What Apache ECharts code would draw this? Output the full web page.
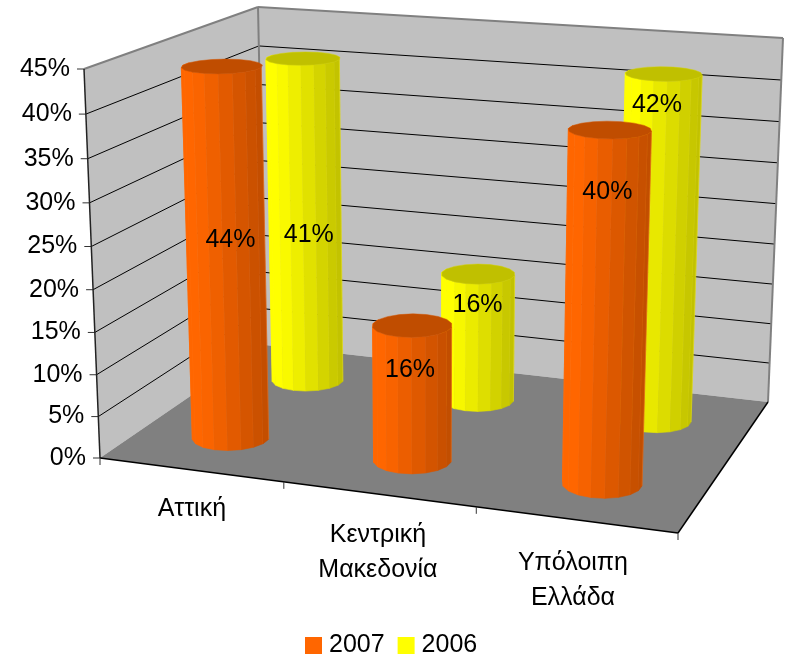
<!DOCTYPE html>
<html><head><meta charset="utf-8">
<style>html,body{margin:0;padding:0;background:#fff}#c{width:785px;height:655px}</style>
<script src="https://cdn.jsdelivr.net/npm/echarts@6/dist/echarts.min.js"></script>
</head><body><div id="c"></div>
<script>
const categories = ['Αττική', 'Κεντρική\nΜακεδονία', 'Υπόλοιπη\nΕλλάδα'];
const yTicks = [0, 5, 10, 15, 20, 25, 30, 35, 40, 45];
const values2007 = [44, 16, 40];
const values2006 = [41, 16, 42];

/* perspective box: screen position of box corners */
const FL = [100, 458], FR = [678, 533], BR = [768, 402], BL = [265, 345];
const TFL = [84, 69], TBL = [258, 7], TBR = [783, 38];
const FONT = '"Liberation Sans", Arial, sans-serif';
const FS = 25;
const RU = 0.066, RV = 0.1, FACETS = 18, CYL_SHIFT = -0.005;
const labelNudge = { '2007': [[21, -26], [12, -35], [13, -130]], '2006': [[18, 4], [12, -43], [8, -155]] };
const catNudge = [[1, 22], [-1, 23], [-3, 26]];

/* floor homography (unit square to quad) */
function quadH(p0, p1, p2, p3) {
  const dx1 = p1[0] - p2[0], dx2 = p3[0] - p2[0], sx = p0[0] - p1[0] + p2[0] - p3[0];
  const dy1 = p1[1] - p2[1], dy2 = p3[1] - p2[1], sy = p0[1] - p1[1] + p2[1] - p3[1];
  const d = dx1 * dy2 - dx2 * dy1;
  const g = (sx * dy2 - dx2 * sy) / d, h = (dx1 * sy - sx * dy1) / d;
  return [p1[0] - p0[0] + g * p1[0], p3[0] - p0[0] + h * p3[0], p0[0],
          p1[1] - p0[1] + g * p1[1], p3[1] - p0[1] + h * p3[1], p0[1], g, h, 1];
}
const H = quadH(FL, FR, BR, BL);
function floorHom(u, v) {
  return [H[0] * u + H[1] * v + H[2], H[3] * u + H[4] * v + H[5], H[6] * u + H[7] * v + H[8]];
}
/* vertical column of the projection, least squares on the three top corners */
function solveC() {
  const pts = [[0, 0, TFL], [0, 1, TBL], [1, 1, TBR]];
  const A = [[0, 0, 0, 0], [0, 0, 0, 0], [0, 0, 0, 0]];
  pts.forEach(([u, v, p]) => {
    const f = floorHom(u, v);
    [[[1, 0, -p[0]], p[0] * f[2] - f[0]], [[0, 1, -p[1]], p[1] * f[2] - f[1]]].forEach(([r, b]) => {
      for (let i = 0; i < 3; i++) { for (let j = 0; j < 3; j++) A[i][j] += r[i] * r[j]; A[i][3] += r[i] * b; }
    });
  });
  for (let i = 0; i < 3; i++) {
    for (let k = i + 1; k < 3; k++) {
      const m = A[k][i] / A[i][i];
      for (let j = i; j < 4; j++) A[k][j] -= m * A[i][j];
    }
  }
  const x = [0, 0, 0];
  for (let i = 2; i >= 0; i--) {
    let s = A[i][3];
    for (let j = i + 1; j < 3; j++) s -= A[i][j] * x[j];
    x[i] = s / A[i][i];
  }
  return x;
}
const C = solveC();
function rawProj(u, v, w) {
  const f = floorHom(u, v), d = f[2] + w * C[2];
  return [(f[0] + w * C[0]) / d, (f[1] + w * C[1]) / d];
}
/* small residual field so the top corners land exactly where they are seen */
const sub = (a, b) => [a[0] - b[0], a[1] - b[1]];
const R00 = sub(TFL, rawProj(0, 0, 1)), R01 = sub(TBL, rawProj(0, 1, 1)), R11 = sub(TBR, rawProj(1, 1, 1));
function proj(u, v, w) {
  const p = rawProj(u, v, w);
  return [0, 1].map(i => p[i] + w * (R00[i] + u * (R11[i] - R01[i]) + v * (R01[i] - R00[i])));
}

/* the hidden grid is 100x100 px, so library scales give box fractions */
function toBox(api, cat, val) {
  const c = api.coord([cat, val]);
  return [c[0] / 100, (100 - c[1]) / 100];
}
const line = (a, b, stroke, lineWidth) => ({
  type: 'line', silent: true,
  shape: { x1: a[0], y1: a[1], x2: b[0], y2: b[1] },
  style: { stroke, lineWidth }
});
const poly = (points, fill, stroke, lineWidth) => ({
  type: 'polygon', silent: true, shape: { points },
  style: { fill, stroke: stroke || fill, lineWidth: lineWidth === undefined ? 0.5 : lineWidth }
});
const text = (x, y, s, align, vAlign) => ({
  type: 'text', silent: true, x, y,
  style: { text: s, fill: '#000', font: FS + 'px ' + FONT, align, verticalAlign: vAlign, lineHeight: 35 }
});

function renderWalls() {
  const t = (u, v) => proj(u, v, 1);
  return { type: 'group', children: [
    poly([FL, BL, t(0, 1), t(0, 0)], '#C0C0C0', '#C0C0C0', 0),
    poly([BL, BR, t(1, 1), t(0, 1)], '#C0C0C0', '#C0C0C0', 0),
    poly([FL, FR, BR, BL], '#808080', '#808080', 0)
  ] };
}
function renderGridTick(params, api) {
  const val = api.value(1);
  const w = toBox(api, 0, val)[1];
  const a = proj(0, 0, w), b = proj(0, 1, w), c = proj(1, 1, w);
  const kids = [];
  const top = val === yTicks[yTicks.length - 1];
  if (val !== yTicks[0]) {
    const col = top ? '#808080' : '#000';
    const lw = top ? 2 : 1;
    kids.push(line(a, b, col, lw), line(b, c, col, lw));
  }
  kids.push(line([a[0] - 7, a[1]], a, '#333', 1));
  kids.push(text(a[0] - 14, a[1], val + '%', 'right', 'middle'));
  return { type: 'group', children: kids };
}
function renderFrame() {
  return { type: 'group', children: [
    line(proj(0, 1, 0), proj(0, 1, 1), '#808080', 2),
    line(proj(1, 1, 0), proj(1, 1, 1), '#808080', 2),
    line(proj(0, 0, 0), proj(0, 0, 1), '#222', 1.5),
    line(FL, FR, '#000', 1.5),
    line(FR, BR, '#000', 1.5)
  ] };
}
function renderCat(params, api) {
  const i = api.value(0);
  const uc = toBox(api, i, 0)[0];
  const band = api.size([1, 0])[0] / 100;
  const kids = [];
  const a = proj(uc - band / 2, 0, 0);
  kids.push(line(a, [a[0], a[1] + 7], '#333', 1));
  if (i === categories.length - 1) {
    const e = proj(uc + band / 2, 0, 0);
    kids.push(line(e, [e[0], e[1] + 7], '#333', 1));
  }
  const c = proj(uc, 0, 0), n = catNudge[i];
  kids.push(text(c[0] + n[0], c[1] + n[1], categories[i], 'center', 'top'));
  return { type: 'group', children: kids };
}
function mix(a, b, t) {
  const h = i => Math.round(a[i] + (b[i] - a[i]) * t);
  return 'rgb(' + h(0) + ',' + h(1) + ',' + h(2) + ')';
}
function cylinder(name, depth, bright, dark) {
  return function (params, api) {
    const i = api.value(0), b = toBox(api, i, api.value(1)), u = b[0] + CYL_SHIFT, w = b[1];
    const ring = h => {
      const r = [];
      for (let k = 0; k < FACETS; k++) {
        const th = (k + 0.5) / FACETS * 2 * Math.PI;
        r.push(proj(u + RU * Math.cos(th), depth + RV * Math.sin(th), h));
      }
      return r;
    };
    const lo = ring(0), hi = ring(w);
    const minX = Math.min.apply(null, lo.map(p => p[0])), maxX = Math.max.apply(null, lo.map(p => p[0]));
    const kids = [];
    for (let k = 0; k < FACETS; k++) {
      const n = (k + 1) % FACETS;
      /* front of the cylinder = facets with angle in the v<depth half */
      const th = (k + 1) / FACETS * 2 * Math.PI;
      if (Math.sin(th) > 0.01) continue;
      const t = Math.max(0, Math.min(1, ((lo[k][0] + lo[n][0]) / 2 - minX) / (maxX - minX)));
      const s = Math.max(0, (t - 0.15) / 0.85);
      const col = mix(bright, dark, s);
      kids.push(poly([lo[k], lo[n], hi[n], hi[k]], col, col, 0.6));
      kids.push(line(lo[n], hi[n], mix(bright, [255, 210, 170], 0.25), 0.35));
    }
    kids.push(poly(hi, mix(dark, dark, 0), mix(dark, bright, 0.3), 0.5));
    const mid = proj(u, depth - RV, w / 2), nu = labelNudge[name][i];
    kids.push(text(mid[0] + nu[0], mid[1] + nu[1], api.value(1) + '%', 'center', 'middle'));
    return { type: 'group', children: kids };
  };
}
const ORANGE = [255, 102, 0], ORANGE_D = [192, 77, 0];
const YELLOW = [255, 255, 0], YELLOW_D = [192, 192, 0];

const base = { type: 'custom', coordinateSystem: 'cartesian2d', clip: false, silent: true, legendHoverLink: false };
const option = {
  animation: false,
  backgroundColor: '#fff',
  grid: { left: 0, top: 0, width: 100, height: 100, show: false },
  xAxis: { type: 'category', data: categories, show: false },
  yAxis: { type: 'value', min: 0, max: 45, interval: 5, show: false },
  legend: {
    data: ['2007', '2006'], left: 305, top: 633, padding: 0, selectedMode: false, icon: 'rect',
    itemWidth: 17, itemHeight: 17, itemGap: 13,
    textStyle: { fontFamily: FONT, fontSize: FS, color: '#000', padding: [0, 0, 0, 2] }
  },
  series: [
    Object.assign({}, base, { name: 'walls', data: [[0, 0]], renderItem: renderWalls, z: 1 }),
    Object.assign({}, base, { name: 'grid', data: yTicks.map(t => [0, t]), renderItem: renderGridTick, z: 2 }),
    Object.assign({}, base, { name: 'frame', data: [[0, 0]], renderItem: renderFrame, z: 3 }),
    Object.assign({}, base, { name: 'cats', data: categories.map((c, i) => [i, 0]), renderItem: renderCat, z: 3 }),
    Object.assign({}, base, { name: '2006', data: values2006.map((v, i) => [i, v]), itemStyle: { color: '#FFFF00' },
      renderItem: cylinder('2006', 0.75, YELLOW, YELLOW_D), z: 4 }),
    Object.assign({}, base, { name: '2007', data: values2007.map((v, i) => [i, v]), itemStyle: { color: '#FF6600' },
      renderItem: cylinder('2007', 0.25, ORANGE, ORANGE_D), z: 5 })
  ]
};
echarts.init(document.getElementById('c'), null, { renderer: 'canvas' }).setOption(option);
</script></body></html>
